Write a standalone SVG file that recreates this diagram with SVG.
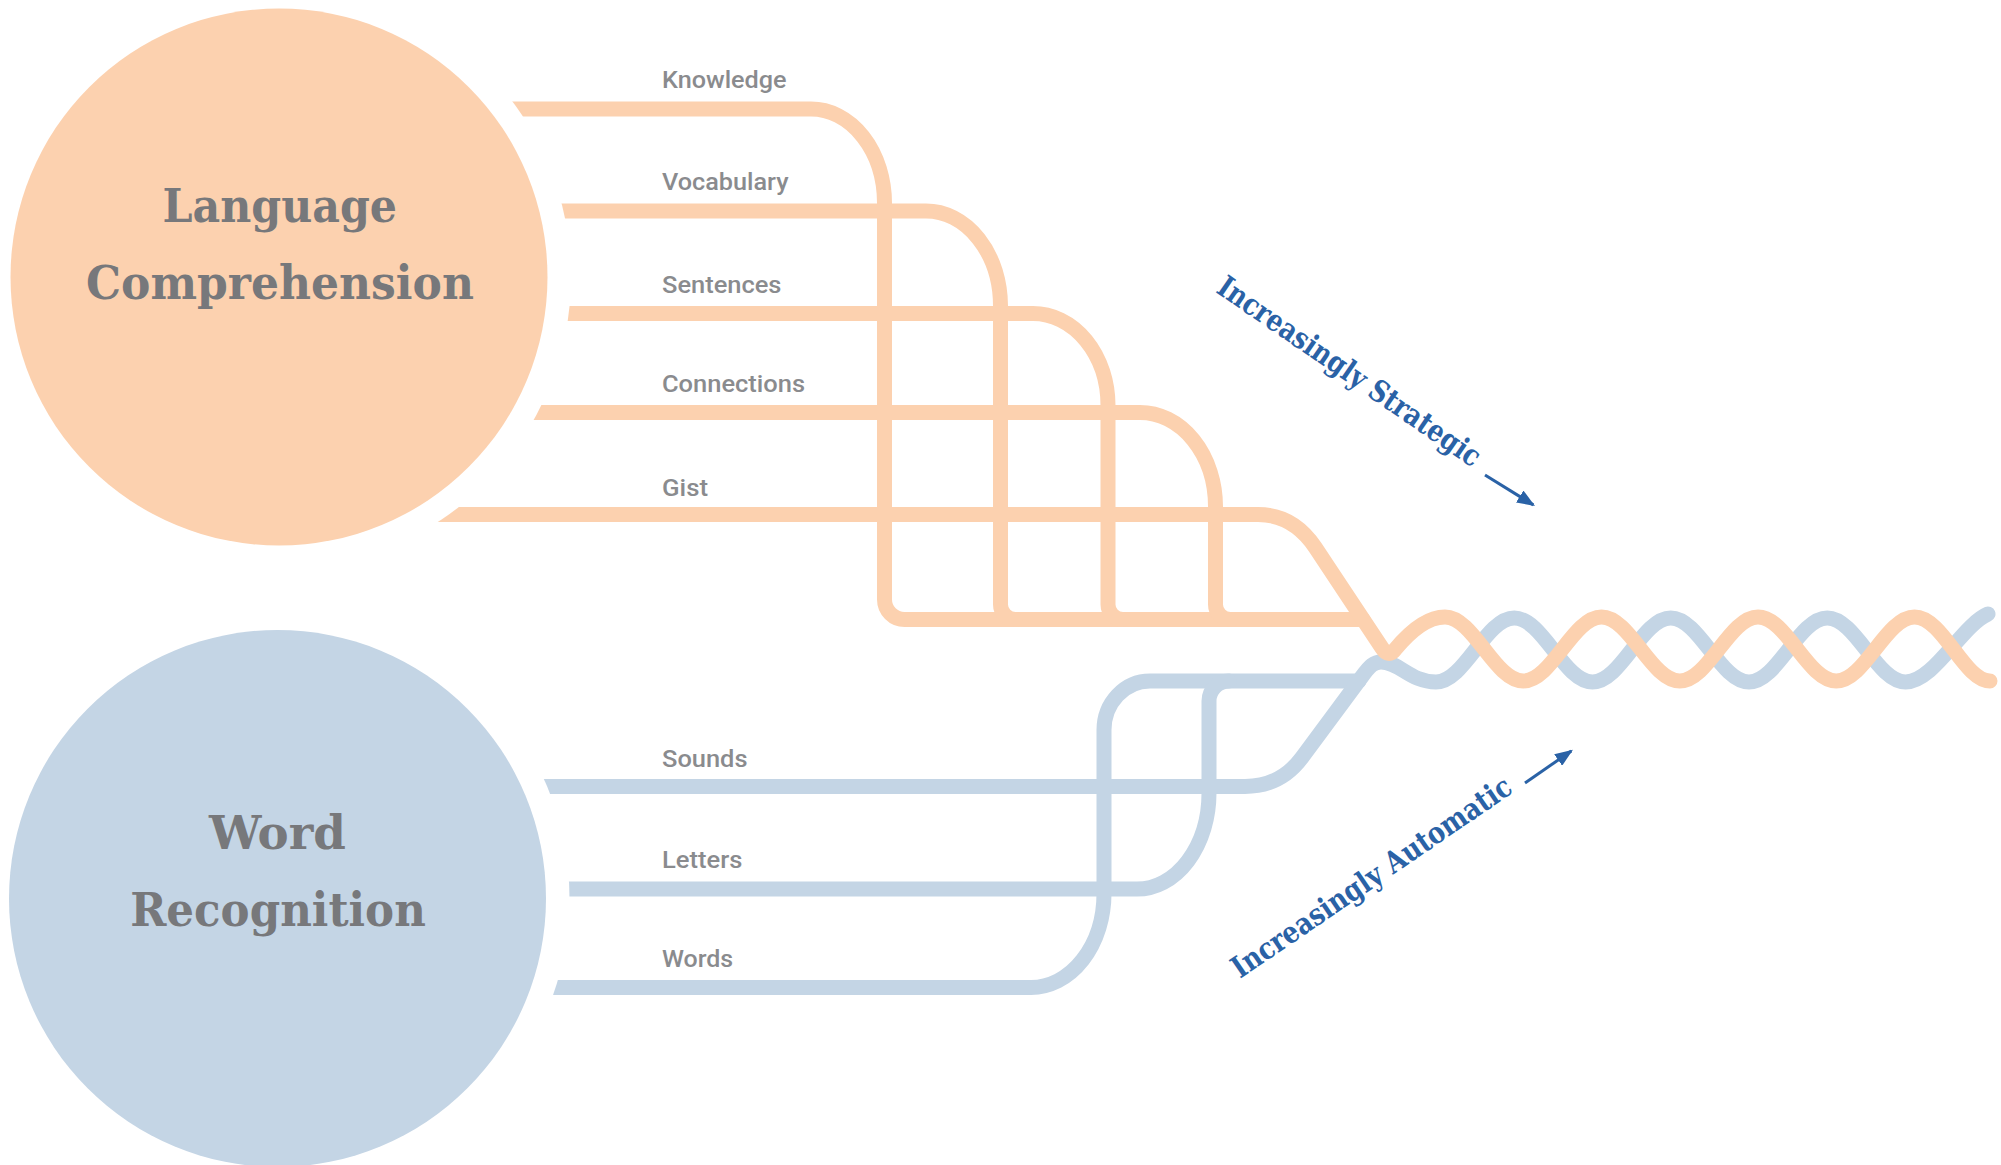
<svg xmlns="http://www.w3.org/2000/svg" width="2001" height="1165" viewBox="0 0 2001 1165">
  <style>
    .strand { fill: none; stroke-width: 15; stroke-linecap: round; stroke-linejoin: round; }
    .lc { stroke: #FCD1AF; }
    .wr { stroke: #C4D5E5; }
    .title { font-family: "DejaVu Serif", "Liberation Serif", serif; font-weight: bold; font-size: 47px; fill: #77787B; text-anchor: middle; }
    .label { font-family: Roboto, "Liberation Sans", sans-serif; font-size: 24px; font-weight: 500; fill: #8A8B8E; }
    .axis { font-family: "DejaVu Serif", "Liberation Serif", serif; font-weight: bold; font-size: 30px; fill: #2A62A6; }
    .arrow { stroke: #2A62A6; stroke-width: 3; fill: none; }
  </style>
  <defs>
    <mask id="cut" maskUnits="userSpaceOnUse" x="0" y="0" width="2001" height="1165">
      <rect x="0" y="0" width="2001" height="1165" fill="#fff"/>
      <circle cx="279" cy="277" r="292" fill="#000"/>
      <circle cx="277.5" cy="898.5" r="292" fill="#000"/>
    </mask>
    <marker id="head" viewBox="0 0 18 14" refX="16" refY="7" markerWidth="18" markerHeight="14" markerUnits="userSpaceOnUse" orient="auto">
      <path d="M0,0 L18,7 L0,14 Z" fill="#2A62A6"/>
    </marker>
  </defs>
  <rect x="0" y="0" width="2001" height="1165" fill="#FFFFFF"/>

  <g id="connectors" mask="url(#cut)">
    <path id="strand-words" class="strand wr" d="M500,987.5 H1031 A73 94 0 0 0 1104,893.5 V730 A46 49 0 0 1 1150,681 H1359"/>
    <path id="strand-letters" class="strand wr" d="M500,889 H1137 A72 96 0 0 0 1209,793 V701 A20 20 0 0 1 1229,681"/>
    <path id="strand-sounds" class="strand wr" d="M500,786.5 H1245 Q1280.5,786.5 1302,757.6 L1362,676.5 C1370,665.5 1374,662 1381,662 C1400,662 1410,682 1436,682 C1464.4,682 1485.85,618 1514.25,618 S1564.1,682 1592.5,682 S1642.35,618 1670.75,618 S1720.6,682 1749,682 S1798.85,618 1827.25,618 S1877.1,682 1905.5,682 S1962,625 1988,614"/>
    <path id="strand-knowledge" class="strand lc" d="M480,109 H811 A73.5 94 0 0 1 884.5,203 V599.5 A20 20 0 0 0 904.5,619.5 H1363"/>
    <path id="strand-vocabulary" class="strand lc" d="M500,211 H926 A74.5 95 0 0 1 1000.5,306 V604.5 A15 15 0 0 0 1015.5,619.5"/>
    <path id="strand-sentences" class="strand lc" d="M500,313.5 H1033 A75 92 0 0 1 1108,405.5 V604.5 A15 15 0 0 0 1123,619.5"/>
    <path id="strand-connections" class="strand lc" d="M480,412.5 H1140 A75.5 94 0 0 1 1215.5,506.5 V604.5 A15 15 0 0 0 1230.5,619.5"/>
    <path id="strand-gist" class="strand lc" d="M380,514.5 H1258 Q1293,514.5 1315,547 L1382,648 Q1388.5,658 1395,649.6 C1407,635 1425,617 1445,617 C1473.4,617 1494.85,681 1523.25,681 S1573.1,617 1601.5,617 S1651.35,681 1679.75,681 S1729.6,617 1758,617 S1807.85,681 1836.25,681 S1886.1,617 1914.5,617 S1964,681 1990,681"/>
  </g>

  <g id="node-language">
    <circle cx="279" cy="277" r="268.5" fill="#FCD1AF"/>
    <text class="title" x="279.75" y="221.5" textLength="234.5" lengthAdjust="spacingAndGlyphs">Language</text>
    <text class="title" x="280" y="298.6" textLength="388" lengthAdjust="spacingAndGlyphs">Comprehension</text>
  </g>

  <g id="node-word">
    <circle cx="277.5" cy="898.5" r="268.5" fill="#C4D5E5"/>
    <text class="title" x="277.5" y="849.3" textLength="137" lengthAdjust="spacingAndGlyphs">Word</text>
    <text class="title" x="278" y="925.7" textLength="295.7" lengthAdjust="spacingAndGlyphs">Recognition</text>
  </g>

  <g id="labels">
    <text class="label" x="662" y="88" textLength="124.5" lengthAdjust="spacingAndGlyphs">Knowledge</text>
    <text class="label" x="662" y="190" textLength="126.5" lengthAdjust="spacingAndGlyphs">Vocabulary</text>
    <text class="label" x="662" y="293" textLength="119.4" lengthAdjust="spacingAndGlyphs">Sentences</text>
    <text class="label" x="662" y="392" textLength="143" lengthAdjust="spacingAndGlyphs">Connections</text>
    <text class="label" x="662" y="496" textLength="46" lengthAdjust="spacingAndGlyphs">Gist</text>
    <text class="label" x="662" y="767" textLength="85.5" lengthAdjust="spacingAndGlyphs">Sounds</text>
    <text class="label" x="662" y="868" textLength="80.4" lengthAdjust="spacingAndGlyphs">Letters</text>
    <text class="label" x="662" y="967" textLength="71.2" lengthAdjust="spacingAndGlyphs">Words</text>
  </g>

  <g id="axis-strategic">
    <text class="axis" transform="translate(1215,291.7) rotate(34.4)" textLength="312" lengthAdjust="spacingAndGlyphs">Increasingly Strategic</text>
    <line class="arrow" x1="1485" y1="475" x2="1533.3" y2="504.9" marker-end="url(#head)"/>
  </g>

  <g id="axis-automatic">
    <text class="axis" transform="translate(1240,979) rotate(-34.3)" textLength="332" lengthAdjust="spacingAndGlyphs">Increasingly Automatic</text>
    <line class="arrow" x1="1525" y1="783" x2="1571.3" y2="750.9" marker-end="url(#head)"/>
  </g>
</svg>
